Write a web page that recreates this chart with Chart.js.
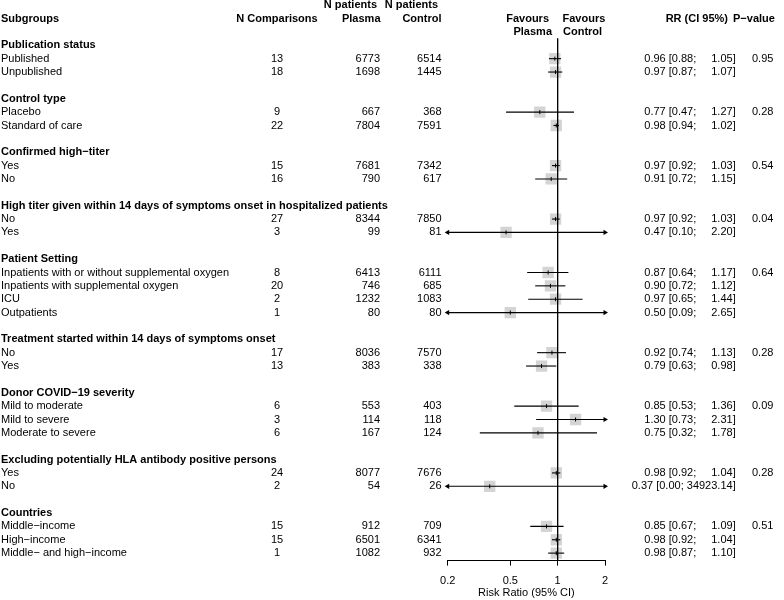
<!DOCTYPE html>
<html>
<head>
<meta charset="utf-8">
<script src="https://cdn.jsdelivr.net/npm/chart.js@4"></script>
<style>
  body { margin: 0; background: #fff; }
  #wrap { width: 784px; height: 600px; }
</style>
</head>
<body>
<div id="wrap"><canvas id="chart"></canvas></div>
<script>
const groupNames = [
    'Publication status',
    'Control type',
    'Confirmed high\u2212titer',
    'High titer given within 14 days of symptoms onset in hospitalized patients',
    'Patient Setting',
    'Treatment started within 14 days of symptoms onset',
    'Donor COVID\u221219 severity',
    'Excluding potentially HLA antibody positive persons',
    'Countries'
];
const groupSizes = [2, 2, 2, 2, 4, 2, 3, 2, 3];
const pValues = ['0.95', '0.28', '0.54', '0.04', '0.64', '0.28', '0.09', '0.28', '0.51'];

const subgroups = [
    'Published', 'Unpublished',
    'Placebo', 'Standard of care',
    'Yes', 'No',
    'No', 'Yes',
    'Inpatients with or without supplemental oxygen', 'Inpatients with supplemental oxygen', 'ICU', 'Outpatients',
    'No', 'Yes',
    'Mild to moderate', 'Mild to severe', 'Moderate to severe',
    'Yes', 'No',
    'Middle\u2212income', 'High\u2212income', 'Middle\u2212 and high\u2212income'
];
const nComparisons = [13, 18, 9, 22, 15, 16, 27, 3, 8, 20, 2, 1, 17, 13, 6, 3, 6, 24, 2, 15, 15, 1];
const nPlasma = [6773, 1698, 667, 7804, 7681, 790, 8344, 99, 6413, 746, 1232, 80, 8036, 383, 553, 114, 167, 8077, 54, 912, 6501, 1082];
const nControl = [6514, 1445, 368, 7591, 7342, 617, 7850, 81, 6111, 685, 1083, 80, 7570, 338, 403, 118, 124, 7676, 26, 709, 6341, 932];
const rr = [0.96, 0.97, 0.77, 0.98, 0.97, 0.91, 0.97, 0.47, 0.87, 0.90, 0.97, 0.50, 0.92, 0.79, 0.85, 1.30, 0.75, 0.98, 0.37, 0.85, 0.98, 0.98];
const ciLow = [0.88, 0.87, 0.47, 0.94, 0.92, 0.72, 0.92, 0.10, 0.64, 0.72, 0.65, 0.09, 0.74, 0.63, 0.53, 0.73, 0.32, 0.92, 0.00, 0.67, 0.92, 0.87];
const ciHigh = [1.05, 1.07, 1.27, 1.02, 1.03, 1.15, 1.03, 2.20, 1.17, 1.12, 1.44, 2.65, 1.13, 0.98, 1.36, 2.31, 1.78, 1.04, 34923.14, 1.09, 1.04, 1.10];

const xTicks = [0.2, 0.5, 1, 2];
const xMin = 0.2, xMax = 2;

// row positions: group header, its subgroups, then a blank line
const rowOfGroup = [];
const rowOfSub = [];
let r = 0;
groupSizes.forEach(n => {
    rowOfGroup.push(r++);
    for (let j = 0; j < n; j++) rowOfSub.push(r++);
    r++;
});
const lastRow = r - 2;
const yMin = -0.525, yMax = lastRow + 0.56;

const FONT = '"Liberation Sans", Arial, Helvetica, sans-serif';
Chart.defaults.font.family = FONT;
Chart.defaults.font.size = 11;
Chart.defaults.color = '#000';

function txt(ctx, s, x, y, align, bold) {
    ctx.font = (bold ? 'bold ' : '') + '11px ' + FONT;
    ctx.textAlign = align;
    ctx.fillText(s, x, y);
}

const tablePlugin = {
    id: 'table',
    afterDraw(chart) {
        const ctx = chart.ctx;
        const py = v => chart.scales.y.getPixelForValue(v);
        ctx.save();
        ctx.fillStyle = '#000';
        ctx.textBaseline = 'middle';

        txt(ctx, 'Subgroups', 1, py(-2), 'left', true);
        txt(ctx, 'N Comparisons', 277, py(-2), 'center', true);
        txt(ctx, 'N patients', 377, py(-3), 'right', true);
        txt(ctx, 'Plasma', 380.5, py(-2), 'right', true);
        txt(ctx, 'N patients', 438, py(-3), 'right', true);
        txt(ctx, 'Control', 441.5, py(-2), 'right', true);
        txt(ctx, 'Favours', 549, py(-2), 'right', true);
        txt(ctx, 'Plasma', 552, py(-1), 'right', true);
        txt(ctx, 'Favours', 562.5, py(-2), 'left', true);
        txt(ctx, 'Control', 563, py(-1), 'left', true);
        txt(ctx, 'RR (CI 95%)', 728, py(-2), 'right', true);
        txt(ctx, 'P\u2212value', 733, py(-2), 'left', true);

        groupNames.forEach((g, i) => {
            txt(ctx, g, 1, py(rowOfGroup[i]), 'left', true);
            txt(ctx, pValues[i], 752, py(rowOfGroup[i] + 1), 'left', false);
        });

        subgroups.forEach((s, i) => {
            const yy = py(rowOfSub[i]);
            txt(ctx, s, 1, yy, 'left');
            txt(ctx, String(nComparisons[i]), 277, yy, 'center');
            txt(ctx, String(nPlasma[i]), 380, yy, 'right');
            txt(ctx, String(nControl[i]), 441.5, yy, 'right');
            const est = rr[i].toFixed(2), lo = ciLow[i].toFixed(2), hi = ciHigh[i].toFixed(2);
            if (hi.length > 5) {
                txt(ctx, est + ' [' + lo + '; ' + hi + ']', 735.7, yy, 'right');
            } else {
                txt(ctx, est + ' [' + lo + ';', 644.3, yy, 'left');
                txt(ctx, hi + ']', 735.7, yy, 'right');
            }
        });
        ctx.restore();
    }
};

const ciSets = rr.map((v, i) => {
    const cutLo = ciLow[i] < xMin, cutHi = ciHigh[i] > xMax;
    return {
        type: 'line',
        order: 2,
        clip: false,
        data: [
            { x: Math.max(ciLow[i], xMin), y: rowOfSub[i] },
            { x: Math.min(ciHigh[i], xMax), y: rowOfSub[i] }
        ],
        borderColor: '#000',
        borderWidth: 1.1,
        pointStyle: 'triangle',
        pointRotation: [-90, 90],
        pointRadius: [cutLo ? 3 : 0, cutHi ? 3 : 0],
        pointBackgroundColor: '#000',
        pointBorderColor: '#000',
        pointBorderWidth: 0
    };
});

new Chart(document.getElementById('chart'), {
    data: {
        datasets: [
            {
                type: 'scatter',
                order: 1,
                data: rr.map((v, i) => ({ x: v, y: rowOfSub[i] })),
                pointStyle: 'line',
                pointRotation: 90,
                pointRadius: 2,
                pointBorderColor: '#000',
                pointBorderWidth: 1
            },
            ...ciSets,
            {
                type: 'line',
                order: 3,
                data: [{ x: 1, y: yMin }, { x: 1, y: yMax }],
                borderColor: '#000',
                borderWidth: 1,
                pointRadius: 0
            },
            {
                type: 'scatter',
                order: 4,
                data: rr.map((v, i) => ({ x: v, y: rowOfSub[i] })),
                pointStyle: 'rect',
                pointRadius: 8,
                pointBackgroundColor: '#d4d4d4',
                pointBorderWidth: 0
            }
        ]
    },
    options: {
        responsive: true,
        maintainAspectRatio: false,
        animation: false,
        layout: { padding: { left: 447.7, right: 179, top: 38.3, bottom: 0 } },
        plugins: {
            legend: { display: false },
            tooltip: { enabled: false }
        },
        scales: {
            x: {
                type: 'logarithmic',
                min: xMin,
                max: xMax,
                afterBuildTicks: s => { s.ticks = xTicks.map(v => ({ value: v })); },
                ticks: {
                    callback: v => String(v),
                    color: '#000',
                    padding: 9,
                    maxRotation: 0,
                    autoSkip: false
                },
                grid: { drawOnChartArea: false, drawTicks: true, tickLength: 5, color: '#000' },
                border: { display: true, color: '#000', width: 1 },
                title: { display: true, text: 'Risk Ratio (95% CI)', color: '#000', padding: { top: -10, bottom: 0 } }
            },
            y: {
                type: 'linear',
                display: false,
                reverse: true,
                min: yMin,
                max: yMax
            }
        }
    },
    plugins: [tablePlugin]
});
</script>
</body>
</html>
